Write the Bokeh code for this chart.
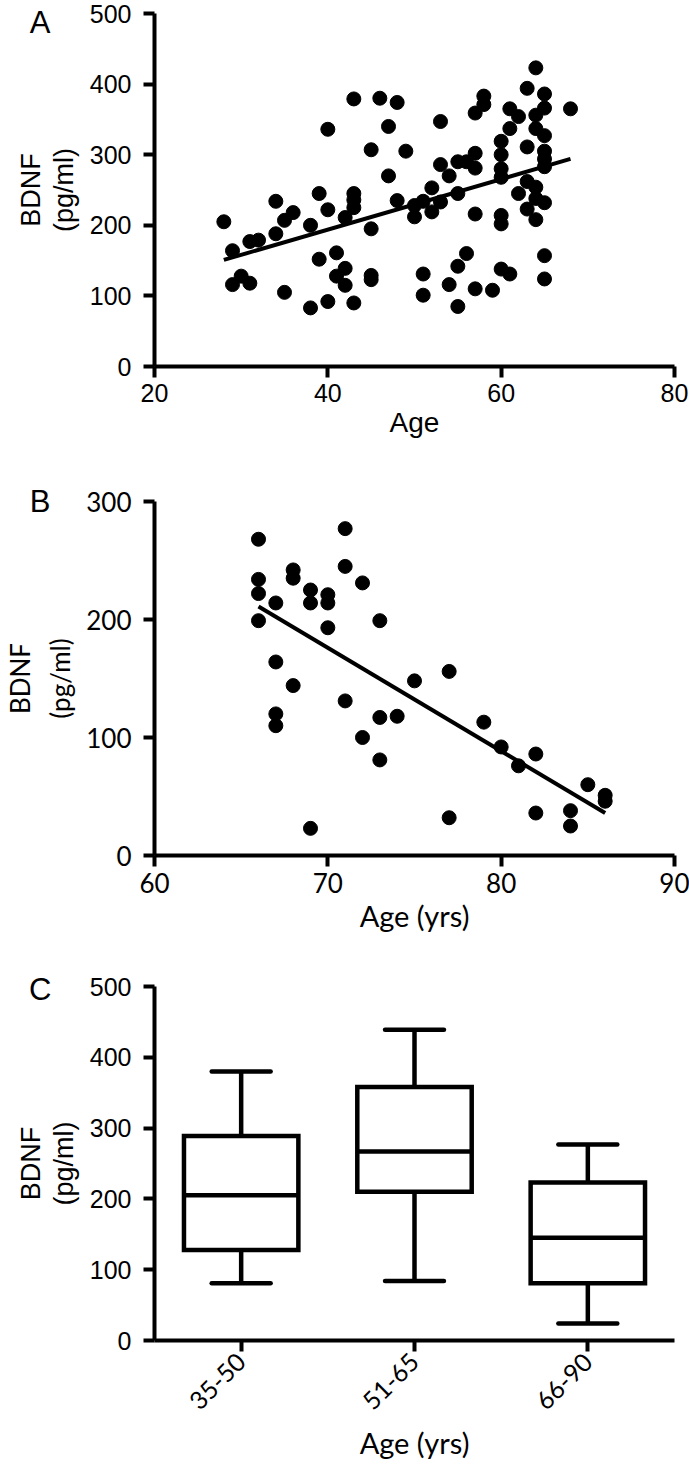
from math import pi
from bokeh.plotting import figure
from bokeh.layouts import column
from bokeh.models import ColumnDataSource, FixedTicker, FactorRange, Range1d, LinearAxis
from bokeh.transform import dodge
from bokeh.embed import file_html
from bokeh.resources import INLINE

# ---------------- data ----------------
a_age = [28, 29, 29, 30, 31, 31, 32, 34, 34, 35, 36, 35, 38, 38, 39, 39, 40, 40, 40,
         41, 41, 42, 42, 42, 43, 43, 43, 43, 43, 45, 45, 45, 45, 46, 47, 47, 48, 48,
         49, 50, 50, 51, 51, 51, 52, 52, 53, 53, 53, 54, 54, 55, 55, 55, 55, 56, 56,
         57, 57, 57, 57, 57, 58, 58, 59, 60, 60, 60, 60, 60, 60, 60, 61, 61, 61, 62,
         62, 63, 63, 63, 63, 64, 64, 64, 64, 64, 64, 65, 65, 65, 65, 65, 65, 65, 65,
         65, 68]
a_bdnf = [205, 164, 116, 128, 118, 177, 179, 188, 234, 207, 218, 105, 200, 83, 245, 152, 336, 222, 92,
          161, 128, 139, 115, 211, 245, 236, 225, 379, 90, 307, 195, 129, 123, 380, 340, 270, 374, 235,
          305, 228, 212, 234, 131, 101, 253, 219, 347, 286, 233, 270, 116, 290, 245, 142, 85, 290, 160,
          359, 302, 281, 216, 110, 383, 371, 108, 319, 300, 280, 268, 214, 202, 138, 365, 337, 131, 354,
          245, 394, 311, 262, 223, 423, 356, 337, 254, 238, 208, 386, 366, 327, 305, 294, 283, 232, 157,
          124, 365]
a_fit_age = [28, 68]
a_fit_bdnf = [151, 294]

b_age = [66, 66, 66, 66, 67, 67, 67, 67, 68, 68, 68, 69, 69, 69, 70, 70, 70, 71, 71, 71,
         72, 72, 73, 73, 73, 74, 75, 77, 77, 79, 80, 81, 82, 82, 84, 84, 85, 86, 86]
b_bdnf = [268, 234, 222, 199, 214, 164, 120, 110, 242, 235, 144, 225, 214, 23, 221, 214, 193, 277, 245, 131,
          231, 100, 199, 117, 81, 118, 148, 156, 32, 113, 92, 76, 86, 36, 38, 25, 60, 51, 46]
b_fit_age = [66, 86]
b_fit_bdnf = [211, 36]

c_groups = ["35-50", "51-65", "66-90"]
c_low = [81, 84, 24]
c_q1 = [128, 210, 81]
c_med = [205, 267, 145]
c_q3 = [289, 358, 223]
c_high = [380, 439, 277]

a_xticks = [20, 40, 60, 80]
a_yticks = [0, 100, 200, 300, 400, 500]
b_xticks = [60, 70, 80, 90]
b_yticks = [0, 100, 200, 300]
c_yticks = [0, 100, 200, 300, 400, 500]

y_title = "BDNF\n(pg/ml)"

ARIAL = "Liberation Sans"
MYRIAD = "Lato"
W = 689


def style_axis(ax, tick_font, tick_size, tick_standoff):
    ax.axis_line_width = 4
    ax.axis_line_color = "black"
    ax.major_tick_line_width = 4
    ax.major_tick_line_color = "black"
    ax.major_tick_out = 11
    ax.major_tick_in = 0
    ax.minor_tick_line_color = None
    ax.major_label_text_font = tick_font
    ax.major_label_text_font_size = tick_size
    ax.major_label_text_color = "black"
    ax.major_label_standoff = tick_standoff


def style_title(ax, font, size, standoff):
    ax.axis_label_text_font = font
    ax.axis_label_text_font_size = size
    ax.axis_label_text_font_style = "normal"
    ax.axis_label_text_color = "black"
    ax.axis_label_standoff = standoff


def base(p):
    p.outline_line_color = None
    p.xgrid.visible = False
    p.ygrid.visible = False
    p.background_fill_color = "white"
    p.border_fill_color = "white"


def letter_axis(p, tick, letter, letter_standoff, title_font, title_size, title_standoff, line_h):
    """Outer left axis (no line, no ticks): its single tick label is the
    panel letter, its axis label is the two-line y title."""
    ax = LinearAxis(ticker=FixedTicker(ticks=[tick]),
                    major_label_overrides={tick: letter})
    ax.axis_line_color = None
    ax.major_tick_line_color = None
    ax.minor_tick_line_color = None
    ax.major_tick_out = 0
    ax.major_tick_in = 0
    ax.major_label_standoff = letter_standoff
    ax.major_label_text_font = ARIAL
    ax.major_label_text_font_size = "31px"
    ax.major_label_text_color = "black"
    ax.axis_label = y_title
    ax.axis_label_text_line_height = line_h
    style_title(ax, title_font, title_size, title_standoff)
    p.add_layout(ax, "left")


# ---------------- panel A ----------------
pa = figure(width=W, height=478, x_range=Range1d(20, 80), y_range=Range1d(0, 500),
            min_border_top=13, min_border_bottom=112, min_border_left=145, min_border_right=15,
            output_backend="svg", toolbar_location=None)
base(pa)
pa.xaxis.ticker = FixedTicker(ticks=a_xticks)
pa.yaxis.ticker = FixedTicker(ticks=a_yticks)
pa.xaxis.axis_label = "Age"
style_axis(pa.xaxis[0], ARIAL, "25px", 6)
style_title(pa.xaxis[0], ARIAL, "28px", 2)
style_axis(pa.yaxis[0], ARIAL, "25px", 12)
pa.scatter(a_age, a_bdnf, size=14, color="black")
pa.line(a_fit_age, a_fit_bdnf, line_width=4, color="black")
letter_axis(pa, 500, "A", 36, ARIAL, "27px", -52, 1.1)

# ---------------- panel B ----------------
pb = figure(width=W, height=492, x_range=Range1d(60, 90), y_range=Range1d(0, 300),
            min_border_top=23, min_border_bottom=115, min_border_left=145, min_border_right=14,
            output_backend="svg", toolbar_location=None)
base(pb)
pb.xaxis.ticker = FixedTicker(ticks=b_xticks)
pb.yaxis.ticker = FixedTicker(ticks=b_yticks)
pb.xaxis.axis_label = "Age (yrs)"
style_axis(pb.xaxis[0], MYRIAD, "26px", 6)
style_title(pb.xaxis[0], MYRIAD, "29px", 2)
style_axis(pb.yaxis[0], MYRIAD, "26px", 12)
pb.scatter(b_age, b_bdnf, size=14, color="black")
pb.line(b_fit_age, b_fit_bdnf, line_width=4, color="black")
letter_axis(pb, 300, "B", 33, MYRIAD, "26px", -49, 1.25)

# ---------------- panel C ----------------
pc = figure(width=W, height=494, x_range=FactorRange(factors=c_groups), y_range=Range1d(0, 500),
            min_border_top=16, min_border_bottom=124, min_border_left=145, min_border_right=7,
            output_backend="svg", toolbar_location=None)
base(pc)
pc.yaxis.ticker = FixedTicker(ticks=c_yticks)
pc.xaxis.axis_label = "Age (yrs)"
style_axis(pc.xaxis[0], MYRIAD, "25px", 6)
style_title(pc.xaxis[0], MYRIAD, "29px", 4)
style_axis(pc.yaxis[0], ARIAL, "25px", 12)
pc.xaxis.major_label_orientation = pi / 4

src = ColumnDataSource(dict(cat=c_groups, low=c_low, q1=c_q1, med=c_med, q3=c_q3, high=c_high))
pc.segment(x0="cat", y0="q3", x1="cat", y1="high", source=src, line_width=4.5, color="black")
pc.segment(x0="cat", y0="q1", x1="cat", y1="low", source=src, line_width=4.5, color="black")
pc.segment(x0=dodge("cat", -0.17, range=pc.x_range), y0="high",
           x1=dodge("cat", 0.17, range=pc.x_range), y1="high",
           source=src, line_width=4.5, color="black", line_cap="round")
pc.segment(x0=dodge("cat", -0.17, range=pc.x_range), y0="low",
           x1=dodge("cat", 0.17, range=pc.x_range), y1="low",
           source=src, line_width=4.5, color="black", line_cap="round")
pc.vbar(x="cat", bottom="q1", top="q3", width=0.66, source=src,
        fill_color="white", line_color="black", line_width=4.5, line_join="miter")
pc.segment(x0=dodge("cat", -0.33, range=pc.x_range), y0="med",
           x1=dodge("cat", 0.33, range=pc.x_range), y1="med",
           source=src, line_width=4.5, color="black")
letter_axis(pc, 500, "C", 35, ARIAL, "27px", -53, 1.1)

layout = column(pa, pb, pc, spacing=0)
open("out.html", "w").write(file_html(layout, INLINE))
